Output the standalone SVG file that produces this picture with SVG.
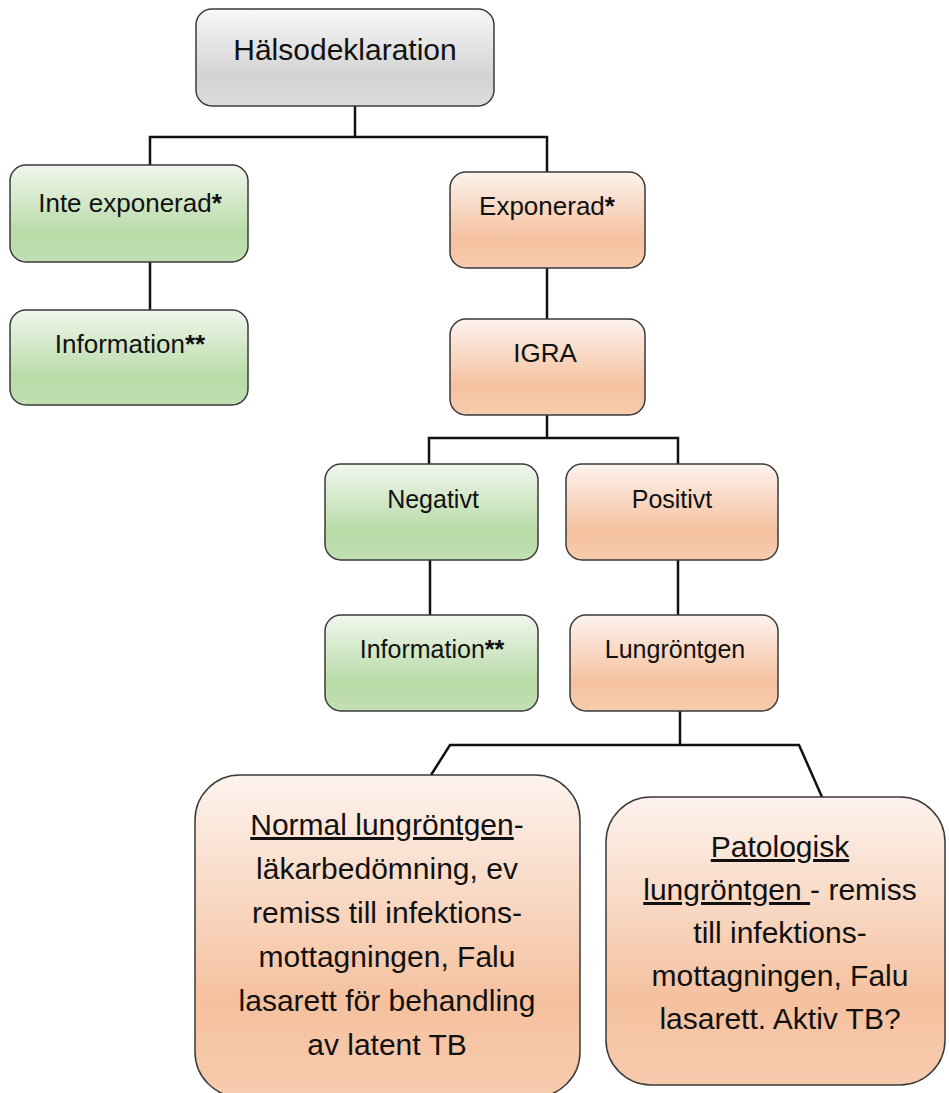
<svg xmlns="http://www.w3.org/2000/svg" width="949" height="1093" viewBox="0 0 949 1093">
<style>
.t{font-family:"Liberation Sans","DejaVu Sans",sans-serif;font-size:25px;fill:#111;text-anchor:middle}
.m{font-size:26px}
.big{font-size:30px}
.lg{font-size:30px}
.b{font-weight:bold}
.box{stroke:#3a3a3a;stroke-width:1.5}
.g{fill:url(#gg)}
.o{fill:url(#go)}
.gr{fill:url(#ggr)}
.c{stroke:#111;stroke-width:2.5;fill:none}
.u{text-decoration:underline}
</style>
<defs>
<linearGradient id="gg" x1="0" y1="0" x2="0" y2="1">
<stop offset="0" stop-color="#f1f7ee"/><stop offset="0.7" stop-color="#b8dba7"/><stop offset="1" stop-color="#c2dfb3"/>
</linearGradient>
<linearGradient id="go" x1="0" y1="0" x2="0" y2="1">
<stop offset="0" stop-color="#fdf3ee"/><stop offset="0.7" stop-color="#f5c19f"/><stop offset="1" stop-color="#f7cbae"/>
</linearGradient>
<linearGradient id="ggr" x1="0" y1="0" x2="0" y2="1">
<stop offset="0" stop-color="#f7f7f7"/><stop offset="0.7" stop-color="#d3d3d3"/><stop offset="1" stop-color="#dcdcdc"/>
</linearGradient>
</defs>
<g id="connectors">
<polyline class="c" points="355,106 355,137"/>
<polyline class="c" points="150,165 150,137 547,137 547,172"/>
<polyline class="c" points="150,262 150,310"/>
<polyline class="c" points="547,268 547,319"/>
<polyline class="c" points="547,415 547,438"/>
<polyline class="c" points="429,464 429,438 678,438 678,464"/>
<polyline class="c" points="430,560 430,615"/>
<polyline class="c" points="678,560 678,615"/>
<polyline class="c" points="680,711 680,745"/>
<polyline class="c" points="431,775 450,745 799,745 822,797"/>
</g>
<g id="halsodeklaration">
<rect class="box gr" x="196" y="9" width="298" height="97" rx="16"/>
<text class="t big" x="345" y="60">Hälsodeklaration</text>
</g>
<g id="inte-exponerad">
<rect class="box g" x="10" y="165" width="238" height="97" rx="16"/>
<text class="t m" x="130" y="212">Inte exponerad<tspan class="b">*</tspan></text>
</g>
<g id="information-1">
<rect class="box g" x="10" y="310" width="238" height="95" rx="16"/>
<text class="t m" x="130" y="353">Information<tspan class="b">**</tspan></text>
</g>
<g id="exponerad">
<rect class="box o" x="450" y="172" width="195" height="96" rx="16"/>
<text class="t m" x="547" y="215">Exponerad<tspan class="b">*</tspan></text>
</g>
<g id="igra">
<rect class="box o" x="450" y="319" width="195" height="96" rx="16"/>
<text class="t m" x="545" y="362">IGRA</text>
</g>
<g id="negativt">
<rect class="box g" x="325" y="464" width="213" height="96" rx="16"/>
<text class="t" x="433" y="508">Negativt</text>
</g>
<g id="positivt">
<rect class="box o" x="566" y="464" width="212" height="96" rx="16"/>
<text class="t" x="672" y="508">Positivt</text>
</g>
<g id="information-2">
<rect class="box g" x="325" y="615" width="213" height="96" rx="16"/>
<text class="t" x="432" y="658">Information<tspan class="b">**</tspan></text>
</g>
<g id="lungrontgen">
<rect class="box o" x="570" y="615" width="208" height="96" rx="16"/>
<text class="t" x="675" y="658">Lungröntgen</text>
</g>
<g id="normal">
<rect class="box o" x="195" y="775" width="385" height="322" rx="45"/>
<text class="t lg" x="387" y="835"><tspan class="u">Normal lungröntgen</tspan>-</text>
<text class="t lg" x="387" y="879">läkarbedömning, ev</text>
<text class="t lg" x="387" y="923">remiss till infektions-</text>
<text class="t lg" x="387" y="967">mottagningen, Falu</text>
<text class="t lg" x="387" y="1011">lasarett för behandling</text>
<text class="t lg" x="387" y="1055">av latent TB</text>
</g>
<g id="patologisk">
<rect class="box o" x="606" y="797" width="339" height="288" rx="45"/>
<text class="t lg" x="780" y="857"><tspan class="u">Patologisk</tspan></text>
<text class="t lg" x="780" y="900"><tspan class="u">lungröntgen </tspan>- remiss</text>
<text class="t lg" x="780" y="943">till infektions-</text>
<text class="t lg" x="780" y="986">mottagningen, Falu</text>
<text class="t lg" x="780" y="1029">lasarett. Aktiv TB?</text>
</g>
</svg>
